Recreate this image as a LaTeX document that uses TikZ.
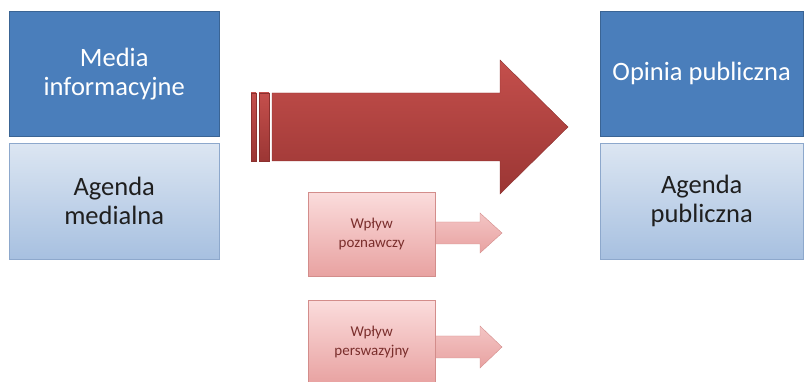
\documentclass[tikz,border=0pt]{standalone}
\usepackage{fontspec}
\setmainfont{Carlito}
\definecolor{boxblue}{HTML}{4A7EBB}
\definecolor{boxedge}{HTML}{3A6494}
\definecolor{paletop}{HTML}{DCE6F2}
\definecolor{palebot}{HTML}{A7C0E0}
\definecolor{paleedge}{HTML}{8DA8CC}
\definecolor{redtop}{HTML}{C44F4C}
\definecolor{redbot}{HTML}{9B3634}
\definecolor{pinktop}{HTML}{FBDCDC}
\definecolor{pinkbot}{HTML}{E8A2A1}
\definecolor{pinkedge}{HTML}{D38D8B}
\definecolor{pinktext}{HTML}{7A2E2C}
\begin{document}
\begin{tikzpicture}[x=1pt,y=-1pt,
  darkbox/.style={draw=boxedge, fill=boxblue, text=white,
    font=\fontsize{26.5}{29}\selectfont, align=center,
    minimum height=125pt, inner sep=0pt, anchor=north west},
  palebox/.style={draw=paleedge, top color=paletop, bottom color=palebot,
    text=black!88, font=\fontsize{26.5}{29}\selectfont, align=center,
    minimum height=116pt, inner sep=0pt, anchor=north west},
  pinkbox/.style={draw=pinkedge, top color=pinktop, bottom color=pinkbot,
    text=pinktext, font=\fontsize{15}{19}\selectfont, align=center,
    minimum width=127pt, inner sep=0pt, anchor=north west},
  pinkarrow/.style={draw=pinkedge, top color=pinktop!60!pinkbot, bottom color=pinkbot},
  bigarrow/.style={top color=redtop, bottom color=redbot, draw=redbot!90!black, line width=0.4pt}]
\useasboundingbox (0,0) rectangle (804,382);

% media side
\node[darkbox, minimum width=210pt] (media) at (9,11) {Media\\informacyjne};
\node[palebox, minimum width=210pt] (agmed) at (9,143) {Agenda\\medialna};

% public side
\node[darkbox, minimum width=203pt] (opinia) at (600,11) {Opinia publiczna};
\node[palebox, minimum width=203pt] (agpub) at (600,143) {Agenda\\publiczna};

% large striped arrow
\shade[bigarrow] (251,93) rectangle (256,161);
\shade[bigarrow] (259,93) rectangle (269,161);
\shade[bigarrow] (272,93) -- (500,93) -- (500,60) -- (568,127)
  -- (500,194) -- (500,161) -- (272,161) -- cycle;

% small arrows with their boxes
\shade[pinkarrow] (430,222) -- (480,222) -- (480,213) -- (502,233)
  -- (480,253) -- (480,244) -- (430,244) -- cycle;
\node[pinkbox, minimum height=84pt] (poznawczy) at (308,192) {Wpływ\\poznawczy};

\shade[pinkarrow] (430,336) -- (480,336) -- (480,326) -- (502,347)
  -- (480,368) -- (480,358) -- (430,358) -- cycle;
\node[pinkbox, minimum height=84pt] (perswazyjny) at (308,300) {Wpływ\\perswazyjny};
\end{tikzpicture}
\end{document}
